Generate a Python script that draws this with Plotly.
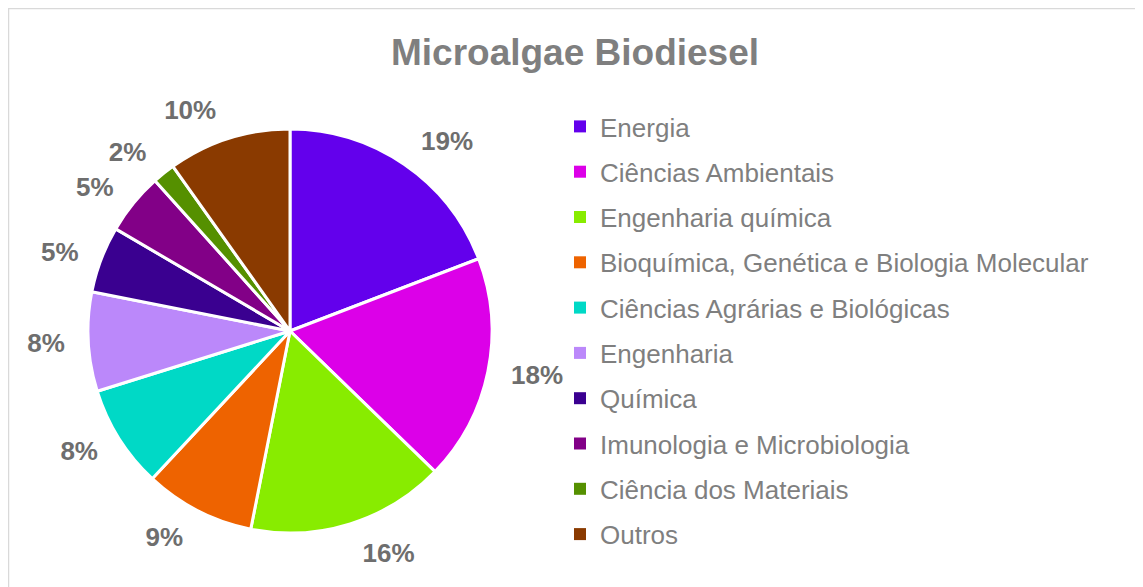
import plotly.graph_objects as go

categories = [
    "Energia",
    "Ciências Ambientais",
    "Engenharia química",
    "Bioquímica, Genética e Biologia Molecular",
    "Ciências Agrárias e Biológicas",
    "Engenharia",
    "Química",
    "Imunologia e Microbiologia",
    "Ciência dos Materiais",
    "Outros",
]
values = [19.1, 18.0, 15.8, 8.8, 8.2, 7.9, 5.3, 4.9, 1.8, 9.8]
colors = [
    "#6300EC", "#DC00E8", "#88EC00", "#EE6300", "#00D9C6",
    "#BB88FA", "#3A0090", "#820087", "#559000", "#8A3A00",
]

W, H = 1143, 587
OFF = 8  # page body margin
cx, cy, r = 290 - OFF, 331 - OFF, 202
r_lab = r + 16
FONT = "Arial, Liberation Sans, sans-serif"


def dom(rad):
    return dict(x=[(cx - rad) / W, (cx + rad) / W],
                y=[(H - cy - rad) / H, (H - cy + rad) / H])


fig = go.Figure()
# transparent ring only used to carry the percentage labels a little further out
fig.add_trace(go.Pie(
    labels=categories,
    values=values,
    sort=False,
    direction="clockwise",
    rotation=0,
    marker=dict(colors=["rgba(0,0,0,0)"] * len(values), line=dict(width=0)),
    texttemplate="%{percent:.0%}",
    textposition="outside",
    outsidetextfont=dict(family=FONT, size=26, color="#6E6E6E", weight="bold"),
    showlegend=False,
    domain=dom(r_lab),
    hoverinfo="skip",
))
fig.add_trace(go.Pie(
    labels=categories,
    values=values,
    sort=False,
    direction="clockwise",
    rotation=0,
    marker=dict(colors=colors, line=dict(color="white", width=3)),
    textinfo="none",
    showlegend=False,
    domain=dom(r),
    hoverinfo="label+percent",
))

for i, (cat, col) in enumerate(zip(categories, colors)):
    fig.add_trace(go.Scatter(
        x=[None], y=[None], mode="markers", name=cat,
        marker=dict(symbol="square", size=9, color=col),
        legendgroup=f"g{i}", showlegend=True, hoverinfo="skip",
    ))

fig.update_layout(
    width=W, height=H,
    margin=dict(l=0, r=0, t=0, b=0),
    paper_bgcolor="white",
    plot_bgcolor="white",
    title=dict(
        text="<b>Microalgae Biodiesel</b>",
        x=(575 - OFF) / W, xanchor="center",
        y=1 - (52 - OFF) / H, yanchor="middle",
        font=dict(family=FONT, size=37, color="#7F7F7F"),
    ),
    legend=dict(
        x=552 / W, xanchor="left",
        y=1 - 95 / H, yanchor="top",
        font=dict(family=FONT, size=26, color="#7F7F7F"),
        tracegroupgap=8.5,
        itemsizing="constant",
        bgcolor="rgba(0,0,0,0)",
    ),
    xaxis=dict(visible=False),
    yaxis=dict(visible=False),
    shapes=[dict(
        type="rect", xref="paper", yref="paper",
        x0=0.5 / W, x1=(1141 - OFF) / W,
        y0=-0.05, y1=1 - 0.5 / H,
        line=dict(color="#D9D9D9", width=1.5), fillcolor="rgba(0,0,0,0)",
    )],
)

fig.write_html("out.html")
